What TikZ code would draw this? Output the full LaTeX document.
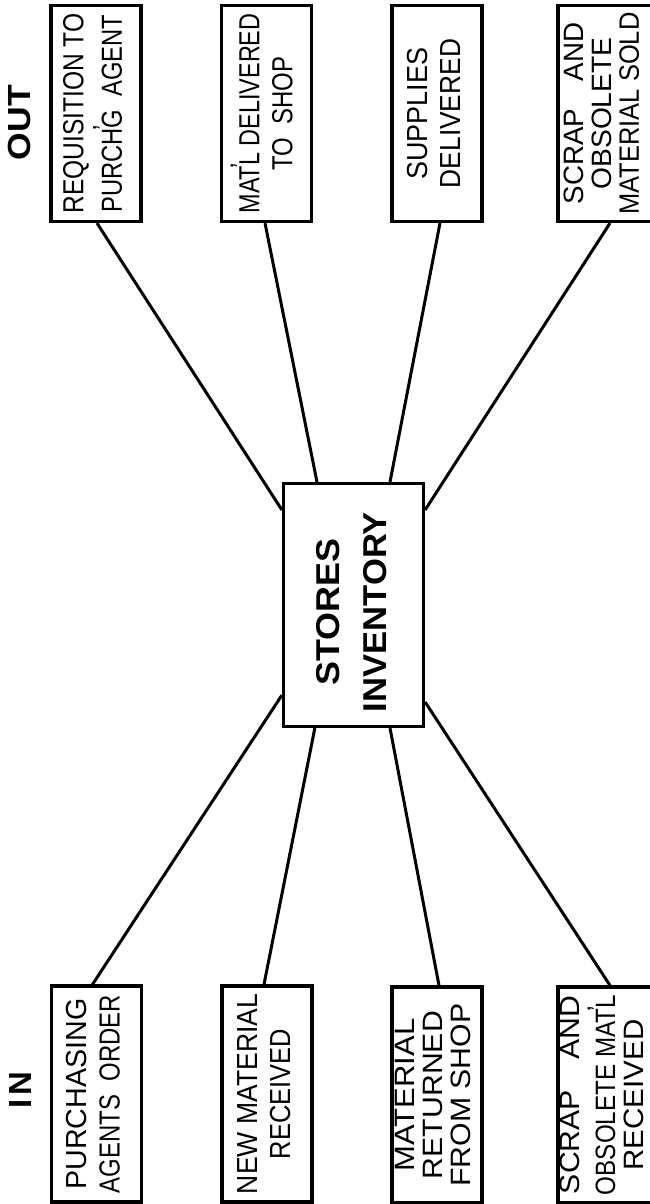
\documentclass[tikz,border=0pt]{standalone}
\usepackage{fontspec}
\usepackage{graphicx}
\setmainfont{Liberation Sans}
\usetikzlibrary{calc}
\newcommand\fitl[2]{\resizebox{#1pt}{\height}{#2}}
\newcommand\tickmark{\makebox[0pt]{\raisebox{0.3em}{\textquoteright}}}
\tikzset{
  obox/.style={draw, line width=3.2pt, inner sep=0pt, minimum width=90pt, minimum height=216pt,
    font=\fontsize{29}{33}\selectfont},
  oboxthree/.style={obox, font=\fontsize{28}{27.5}\selectfont},
  oboxedge/.style={oboxthree, minimum width=95pt},
  cbox/.style={draw, line width=3.2pt, inner sep=0pt, minimum width=140pt, minimum height=243pt,
    font=\bfseries\fontsize{33}{47}\selectfont},
  head/.style={inner sep=0pt, font=\bfseries\fontsize{32}{32}\selectfont},
  conn/.style={line width=3pt},
}
\begin{document}
\begin{tikzpicture}[x=1pt,y=-1pt]
\useasboundingbox (0,0) rectangle (649,1204);
\fill[white] (0,0) rectangle (649,1204);

% headings
\node[head] (out) at (19,122.5) {\rotatebox{90}{\fitl{75}{OUT}}};
\node[head] (in) at (20.5,1090) {\rotatebox{90}{\fitl{36}{I\kern3pt N}}};

% centre box
\node[cbox] (c) at (353.5,605) {\rotatebox{90}{\begin{tabular}{@{}c@{\hspace{14pt}}}
  \fitl{147}{STORES}\\ \fitl{200}{INVENTORY}\end{tabular}}};

% OUT boxes
\node[obox] (b1) at (96,113.5) {\rotatebox{90}{\begin{tabular}{@{}c@{}}
  \fitl{200}{REQUISITION TO}\\ \fitl{198}{PURCH\tickmark G\ \ AGENT}\end{tabular}}};
\node[obox] (b2) at (266.5,113.5) {\rotatebox{90}{\begin{tabular}{@{}c@{}}
  \fitl{200}{MAT\tickmark L DELIVERED}\\ \fitl{114}{TO\ \ SHOP}\end{tabular}}};
\node[obox] (b3) at (437,113.5) {\rotatebox{90}{\begin{tabular}{@{}c@{}}
  \fitl{132}{SUPPLIES}\\ \fitl{149}{DELIVERED}\end{tabular}}};
\node[oboxedge] (b4) at (605.5,113.5) {\rotatebox{90}{\begin{tabular}{@{}c@{}}
  \fitl{182}{SCRAP\quad AND}\\ \fitl{152}{OBSOLETE}\\ \fitl{202}{MATERIAL SOLD}\end{tabular}}};

% IN boxes
\node[obox] (b5) at (96.5,1094) {\rotatebox{90}{\begin{tabular}{@{}c@{}}
  \fitl{191}{PURCHASING}\\ \fitl{198}{AGENTS\ \ ORDER}\end{tabular}}};
\node[obox] (b6) at (267,1094) {\rotatebox{90}{\begin{tabular}{@{}c@{}}
  \fitl{200}{NEW MATERIAL}\\ \fitl{130}{RECEIVED}\end{tabular}}};
\node[oboxthree] (b7) at (437,1095) {\rotatebox{90}{\begin{tabular}{@{}c@{}}
  \fitl{153}{MATERIAL}\\ \fitl{168}{RETURNED}\\ \fitl{183}{FROM SHOP}\end{tabular}}};
\node[oboxedge] (b8) at (605.5,1095) {\rotatebox{90}{\begin{tabular}{@{}c@{}}
  \fitl{198}{SCRAP\quad AND}\\ \fitl{200}{OBSOLETE MAT\tickmark L}\\ \fitl{151}{RECEIVED}\end{tabular}}};

% connectors
\draw[conn] ([xshift=1pt]b1.south) -- ($(c.north west)!0.114!(c.south west)$);
\draw[conn] ([xshift=-1.5pt]b2.south) -- ($(c.north west)!0.245!(c.north east)$);
\draw[conn] ([xshift=3pt]b3.south) -- ($(c.north west)!0.755!(c.north east)$);
\draw[conn] ([xshift=4.5pt]b4.south) -- ($(c.north east)!0.114!(c.south east)$);
\draw[conn] ([xshift=-4pt]b5.north) -- ($(c.north west)!0.866!(c.south west)$);
\draw[conn] ([xshift=-3pt]b6.north) -- ($(c.south west)!0.23!(c.south east)$);
\draw[conn] ([xshift=2pt]b7.north) -- ($(c.south west)!0.755!(c.south east)$);
\draw[conn] ([xshift=4.5pt]b8.north) -- ($(c.north east)!0.894!(c.south east)$);
\end{tikzpicture}
\end{document}
